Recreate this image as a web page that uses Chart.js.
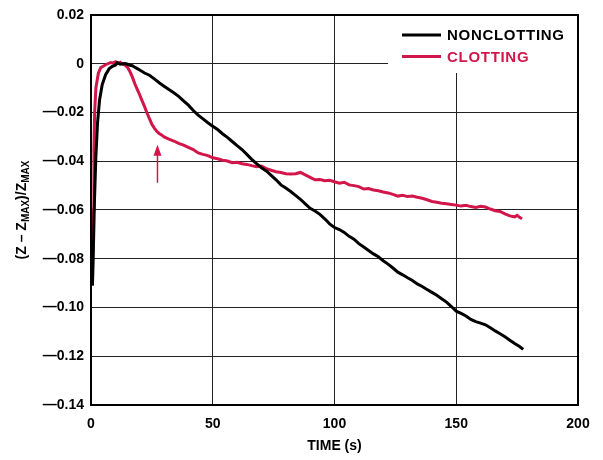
<!DOCTYPE html>
<html>
<head>
<meta charset="utf-8">
<script src="https://cdn.jsdelivr.net/npm/chart.js@4.4.1/dist/chart.umd.min.js"></script>
<style>
  html, body { margin: 0; padding: 0; background: #fff; }
  #wrap { width: 603px; height: 460px; }
</style>
</head>
<body>
<div id="wrap"><canvas id="zChart" width="603" height="460"></canvas></div>
<script>
const seriesNames = ['NONCLOTTING', 'CLOTTING'];

const nonclotTime = [0.6, 1.0, 1.4, 2.0, 2.7, 3.5, 4.6, 6, 7.5, 8.7, 10, 10.8, 12, 13, 14, 15, 16, 17, 18, 19, 20,
  22, 24, 26, 28, 30, 32, 34, 36, 38, 40, 42, 44, 46, 48, 50, 52, 54, 56, 58, 60, 62, 64, 66, 68, 70,
  72, 74, 76, 78, 80, 82, 84, 86, 88, 90, 92, 94, 96, 98, 100, 102, 104, 106, 108, 110, 112, 114, 116,
  118, 120, 122, 124, 126, 128, 130, 132, 134, 136, 138, 140, 142, 144, 146, 148, 150, 152, 154, 156,
  158, 160, 162, 164, 166, 168, 170, 172, 174, 176, 177.5];
const nonclotValues = [-0.091, -0.075, -0.057, -0.038, -0.024, -0.015, -0.0086, -0.0045, -0.002, -0.0011, -0.0006, 0.0005,
  -0.0002, 0.0, 0.0001, -0.0002, -0.0006, -0.0008, -0.0014, -0.002, -0.0026,
  -0.0038, -0.0047, -0.0062, -0.0078, -0.0092, -0.0106, -0.0119, -0.0134, -0.0152, -0.017, -0.0192, -0.0211,
  -0.0226, -0.0242, -0.0256, -0.027, -0.0287, -0.0302, -0.0319, -0.0336, -0.0352, -0.0372, -0.0392, -0.041,
  -0.0427, -0.044, -0.0458, -0.0476, -0.0497, -0.051, -0.0524, -0.054, -0.0556, -0.0575, -0.0593, -0.0604,
  -0.0618, -0.0636, -0.0657, -0.0672, -0.068, -0.0692, -0.0708, -0.072, -0.0738, -0.0752, -0.0766, -0.078,
  -0.0792, -0.0808, -0.0822, -0.0838, -0.0855, -0.0866, -0.0878, -0.0889, -0.0903, -0.0914, -0.0926, -0.0938,
  -0.095, -0.0964, -0.0978, -0.0996, -0.1015, -0.1024, -0.1035, -0.1049, -0.1058, -0.1064, -0.1071, -0.1083,
  -0.1096, -0.1108, -0.112, -0.1134, -0.1148, -0.116, -0.1172];

const clotTime = [0.6, 0.9, 1.2, 1.5, 2.0, 3, 4, 5, 6, 7, 8, 9, 10, 11, 12, 13, 14, 15, 16, 17, 18, 19, 20, 21,
  22, 23, 24, 25, 26, 27, 28, 29, 30, 32, 34, 36, 38, 40, 42, 44, 46, 48, 50, 52, 54, 56, 58, 60, 62, 64,
  66, 68, 70, 72, 74, 76, 78, 80, 82, 84, 86, 88, 90, 92, 94, 96, 98, 100, 102, 104, 106, 108, 110, 112,
  114, 116, 118, 120, 122, 124, 126, 128, 130, 132, 134, 136, 138, 140, 142, 144, 146, 148, 150, 152, 154,
  156, 158, 160, 162, 164, 166, 168, 170, 172, 174, 175, 176, 177];
const clotValues = [-0.091, -0.06, -0.035, -0.02, -0.01, -0.004, -0.0016, -0.001, -0.0004, 0.0, 0.0005, 0.0003,
  0.0008, 0.0001, 0.0006, -0.0002, -0.0006, -0.0015, -0.0032, -0.0055, -0.0082, -0.0105, -0.0128, -0.0152,
  -0.0176, -0.0202, -0.0225, -0.0248, -0.0264, -0.0277, -0.0286, -0.0292, -0.03, -0.0309, -0.0317, -0.0327,
  -0.0334, -0.0343, -0.0352, -0.0366, -0.0372, -0.0377, -0.0386, -0.039, -0.0396, -0.0399, -0.0406, -0.0404,
  -0.041, -0.0413, -0.0418, -0.0422, -0.042, -0.043, -0.0437, -0.0443, -0.0446, -0.0451, -0.0452, -0.0451,
  -0.0446, -0.0456, -0.0466, -0.0476, -0.0475, -0.048, -0.0478, -0.0484, -0.049, -0.0486, -0.0497, -0.05,
  -0.0504, -0.0514, -0.0512, -0.0518, -0.0521, -0.0526, -0.053, -0.0536, -0.0543, -0.054, -0.0545, -0.0543,
  -0.0548, -0.0552, -0.0558, -0.0565, -0.0568, -0.0572, -0.0574, -0.0577, -0.058, -0.0584, -0.0581, -0.0586,
  -0.059, -0.0585, -0.0588, -0.0596, -0.0603, -0.0606, -0.0616, -0.0624, -0.0628, -0.0622, -0.063, -0.0636];

// arrow marking the clotting onset: [time, bottom value, tip value]
const arrowMark = [27.3, -0.0488, -0.0332];

const xTicks = [0, 50, 100, 150, 200];
const yTicks = [0.02, 0, -0.02, -0.04, -0.06, -0.08, -0.10, -0.12, -0.14];

const black = '#000000';
const red = '#d2164a';
const fontFamily = '"Liberation Sans", Arial, Helvetica, sans-serif';

const toPoints = (t, v) => t.map((x, i) => ({ x, y: v[i] }));
const dash = s => s.replace('-', '\u2014');

const noPad = scale => {
  scale.paddingTop = 0; scale.paddingBottom = 0;
  scale.paddingLeft = 0; scale.paddingRight = 0;
};

const decorations = {
  id: 'decorations',
  afterDraw(chart) {
    const { ctx, chartArea: a, scales: { x, y } } = chart;
    ctx.save();

    // legend box
    ctx.fillStyle = '#fff';
    ctx.fillRect(388, a.top, a.right - 388, 73 - a.top);
    ctx.font = `bold 15px ${fontFamily}`;
    ctx.letterSpacing = '0.7px';
    ctx.textBaseline = 'middle';
    [[black, 35], [red, 56.5]].forEach(([c, ly], i) => {
      ctx.strokeStyle = c;
      ctx.lineWidth = 3;
      ctx.beginPath();
      ctx.moveTo(402, ly);
      ctx.lineTo(441, ly);
      ctx.stroke();
      ctx.fillStyle = c;
      ctx.fillText(seriesNames[i], 447, ly + 1);
    });
    ctx.letterSpacing = '0px';

    // plot frame
    ctx.strokeStyle = black;
    ctx.lineWidth = 2;
    ctx.strokeRect(a.left, a.top, a.right - a.left, a.bottom - a.top);

    // arrow
    const ax = x.getPixelForValue(arrowMark[0]);
    const yb = y.getPixelForValue(arrowMark[1]);
    const yt = y.getPixelForValue(arrowMark[2]);
    ctx.strokeStyle = red;
    ctx.fillStyle = red;
    ctx.lineWidth = 1.5;
    ctx.beginPath();
    ctx.moveTo(ax, yb);
    ctx.lineTo(ax, yt + 8);
    ctx.stroke();
    ctx.beginPath();
    ctx.moveTo(ax, yt);
    ctx.lineTo(ax - 4, yt + 11);
    ctx.lineTo(ax + 4, yt + 11);
    ctx.closePath();
    ctx.fill();

    // y axis title with subscripts
    const parts = [['(Z \u2013 Z', 14, 0], ['MAX', 10, 3], [')/Z', 14, 0], ['MAX', 10, 3]];
    ctx.fillStyle = black;
    ctx.textBaseline = 'alphabetic';
    let total = 0;
    parts.forEach(([s, f]) => { ctx.font = `bold ${f}px ${fontFamily}`; total += ctx.measureText(s).width; });
    ctx.translate(26, (a.top + a.bottom) / 2);
    ctx.rotate(-Math.PI / 2);
    let px = -total / 2;
    parts.forEach(([s, f, dy]) => {
      ctx.font = `bold ${f}px ${fontFamily}`;
      ctx.fillText(s, px, dy);
      px += ctx.measureText(s).width;
    });
    ctx.restore();
  }
};

new Chart(document.getElementById('zChart'), {
  type: 'line',
  data: {
    datasets: [
      { label: seriesNames[0], data: toPoints(nonclotTime, nonclotValues), borderColor: black, borderWidth: 3, pointRadius: 0, tension: 0 },
      { label: seriesNames[1], data: toPoints(clotTime, clotValues), borderColor: red, borderWidth: 3, pointRadius: 0, tension: 0 }
    ]
  },
  options: {
    responsive: false,
    animation: false,
    layout: { padding: { top: 15, right: 25, left: 0, bottom: 0 } },
    plugins: { legend: { display: false }, tooltip: { enabled: false } },
    scales: {
      x: {
        type: 'linear',
        min: 0, max: 200,
        afterBuildTicks: s => { s.ticks = xTicks.map(value => ({ value })); },
        afterFit: s => { s.height = 55; noPad(s); },
        grid: { color: '#222', lineWidth: 1, drawTicks: false },
        border: { display: false },
        ticks: { color: black, padding: 11, maxRotation: 0, font: { family: fontFamily, size: 14, weight: 'bold' } },
        title: { display: true, text: 'TIME (s)', color: black, padding: { top: 0, bottom: 5 }, font: { family: fontFamily, size: 14, weight: 'bold' } }
      },
      y: {
        min: -0.14, max: 0.02,
        afterBuildTicks: s => { s.ticks = yTicks.map(value => ({ value })); },
        afterFit: s => { s.width = 91; noPad(s); },
        grid: { color: '#222', lineWidth: 1, drawTicks: false },
        border: { display: false },
        ticks: {
          color: black, padding: 7,
          font: { family: fontFamily, size: 14, weight: 'bold' },
          callback: v => Math.abs(v) < 1e-9 ? '0' : dash(Number(v).toFixed(2))
        }
      }
    }
  },
  plugins: [decorations]
});
</script>
</body>
</html>
